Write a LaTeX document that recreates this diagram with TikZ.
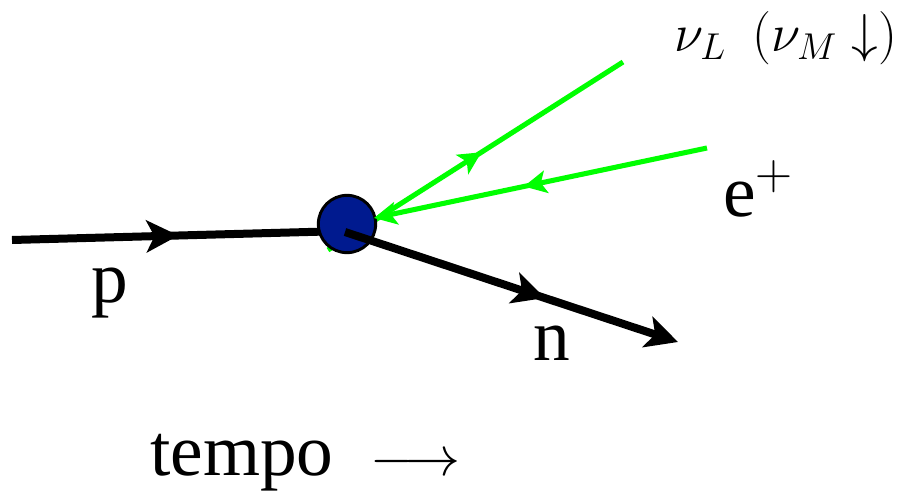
\RequirePackage{fix-cm}
\documentclass[tikz,border=0pt]{standalone}
\usepackage{fontspec}
\setmainfont{Liberation Serif}
\usetikzlibrary{arrows.meta,decorations.markings}
\definecolor{vgreen}{RGB}{0,255,0}
\definecolor{vblue}{RGB}{0,26,143}
\tikzset{
  blk/.style={line width=6pt, black},
  grn/.style={line width=3.8pt, vgreen},
  midblk/.style={postaction={decorate}, decoration={markings,
     mark=at position #1 with {\arrow{Stealth[length=24pt,width=24pt,inset=6pt]}}}},
  midgrn/.style={postaction={decorate}, decoration={markings,
     mark=at position #1 with {\arrow{Stealth[length=17pt,width=17pt,inset=4pt]}}}},
  lbl/.style={font=\fontsize{55}{60}\selectfont, inner sep=0pt},
}
\begin{document}
\begin{tikzpicture}[x=0.75pt,y=-0.75pt]
\useasboundingbox (0,0) rectangle (913,492);
\coordinate (pstart) at (12,240);
\coordinate (vtx) at (347,224);
\coordinate (pend) at (345,231);
\coordinate (nstart) at (345,232);
\coordinate (nend) at (678,342);
\coordinate (nuA) at (328,250);
\coordinate (nuB) at (623,62);
\coordinate (eA) at (707,148);
\coordinate (eB) at (374,218);
% neutrino line (behind the blob)
\draw[grn, midgrn=0.52] (nuA) -- (nuB);
% proton
\draw[blk, midblk=0.5] (pstart) -- (pend);
% blob
\node[circle, draw=black, line width=2.2pt, fill=vblue, minimum size=43pt, inner sep=0pt] (blob) at (vtx) {};
% neutron
\draw[blk, midblk=0.6, -{Stealth[length=24pt,width=24pt,inset=6pt]}] (nstart) -- (nend);
% positron
\draw[grn, midgrn=0.55, -{Stealth[length=17pt,width=17pt,inset=4pt]}] (eA) -- (eB);
% labels
\node[inner sep=0pt, font=\fontsize{40}{44}\selectfont] (nulbl) at (786,38) {$\nu_L\ \ (\nu_M\downarrow)$};
\node[lbl, anchor=base west] (elbl) at (723,216) {e$^+$};
\node[lbl, anchor=base] (plbl) at (110,302) {p};
\node[lbl, anchor=base] (nlbl) at (552,360) {n};
\node[lbl, anchor=base west] (tlbl) at (150,475) {tempo\ \ {\fontsize{42}{46}\selectfont$\longrightarrow$}};
\end{tikzpicture}
\end{document}
